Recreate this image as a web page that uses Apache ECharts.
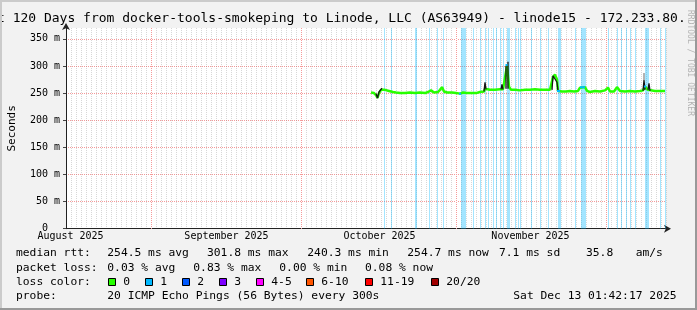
<!DOCTYPE html>
<html><head><meta charset="utf-8">
<script src="https://cdn.jsdelivr.net/npm/echarts@6/dist/echarts.min.js"></script>
<style>html,body{margin:0;padding:0;background:#f2f2f2}#c{width:697px;height:310px}</style>
</head><body><div id="c"></div>
<script>
// ---- data (x = days since 1 Aug 2025, y = milliseconds) ----
const monthLabels = ['August 2025', 'September 2025', 'October 2025', 'November 2025'];
const monthLabelDays = [14.9, 46.1, 76.7, 106.9];
const monthStartDays = [31, 61, 92, 122];
const yTicks = [0, 50, 100, 150, 200, 250, 300, 350];

const medianDays = [75.0, 75.6, 76.0, 76.3, 76.6, 77.0, 77.4, 77.8, 78.2, 78.6, 79.0, 79.4, 80.0, 80.8, 81.8, 82.8, 83.8, 84.8, 85.8, 86.4, 87.0, 87.6, 88.4, 88.8, 89.2, 89.6, 90.2, 91.2, 92.0, 92.8, 93.4, 94.2, 95.2, 96.0, 96.8, 97.2, 97.6, 97.8, 98.2, 98.8, 99.8, 100.8, 101.4, 101.8, 102.2, 102.6, 103.0, 103.8, 104.8, 105.8, 106.8, 107.8, 108.8, 109.8, 110.8, 111.2, 111.4, 111.8, 112.2, 112.4, 113.2, 114.0, 114.8, 115.6, 116.4, 116.8, 117.8, 118.2, 118.8, 119.8, 120.8, 121.8, 122.4, 122.8, 123.6, 124.2, 124.8, 125.8, 126.8, 127.8, 128.8, 129.4, 129.8, 130.4, 130.8, 131.8, 132.8, 133.8];
const medianMs = [251, 250, 246, 241, 250, 256, 259, 256, 257, 254, 255, 252, 251, 250, 250, 251, 250, 251, 250, 252, 255, 251, 252, 256, 261, 253, 251, 251, 250, 249, 251, 250, 250, 250, 252, 255, 253, 258, 256, 256, 256, 257, 257, 258, 300, 262, 256, 256, 255, 256, 256, 257, 256, 256, 256, 258, 280, 284, 275, 254, 253, 253, 254, 253, 254, 260, 261, 254, 252, 254, 253, 255, 260, 253, 253, 261, 254, 253, 254, 253, 254, 255, 262, 256, 254, 254, 254, 254];

// dark smoke (ping spread) around the spikes; null = gap
const smokeDays = [76.0, 76.3, 76.6, 77.2, 77.3, 97.6, 97.8, 98.0, 98.1, 101.0, 101.2, 101.4, 101.5, 102.0, 102.0, 102.1, 102.4, 102.4, 102.5, 111.2, 111.4, 111.8, 112.2, 112.4, 112.5, 129.4, 129.6, 129.8, 129.9, 130.4, 130.6, 130.8];
const smokeMs = [249, 241, 252, 259, null, 253, 270, 257, null, 257, 266, 257, null, 258, 300, null, 258, 308, null, 256, 282, 285, 270, 254, null, 254, 274, 256, null, 256, 268, 254];
const lightSmokeDays = [129.6, 129.6];
const lightSmokeMs = [274, 287];

// median ticks drawn in the 1-ping loss colour
const lossMedianDays = [92.6, 93.0, 93.1, 101.9, 102.3, 102.4, 112.2, 112.8, 112.9, 116.8, 117.8, 117.9, 129.6, 130.0];
const lossMedianMs = [249, 249, null, 302, 302, null, 254, 254, null, 261, 261, null, 262, 262];

// samples (one rrd pixel = 0.2 day) with 1 of 20 pings lost
const lossDays = [77.6, 79.0, 83.8, 84.0, 86.6, 88.2, 89.4, 93.0, 93.2, 93.4, 93.6, 93.8, 95.4, 96.8, 97.8, 98.4, 99.4, 100.0, 100.8, 101.4, 102.2, 102.4, 102.6, 103.8, 104.4, 104.8, 107.0, 108.8, 110.4, 112.4, 112.6, 112.8, 115.8, 117.0, 117.2, 117.4, 117.6, 117.8, 122.4, 124.2, 125.0, 126.0, 126.8, 127.8, 129.8, 130.0, 130.2, 130.4, 132.8, 133.8];

const titleText = 't 120 Days from docker-tools-smokeping to Linode, LLC (AS63949) - linode15 - 172.233.80.';
const rttLabel = 'median rtt:';
const rttStats = ['254.5 ms avg', '301.8 ms max', '240.3 ms min', '254.7 ms now', '7.1 ms sd', '35.8', 'am/s'];
const lossLabel = 'packet loss:';
const lossStats = ['0.03 % avg', '0.83 % max', '0.00 % min', '0.08 % now'];
const lossColorLabel = 'loss color:';
const lossNames = ['0', '1', '2', '3', '4-5', '6-10', '11-19', '20/20'];
const lossColors = ['#26ff00', '#00b8ff', '#0059ff', '#7e00ff', '#ff00ff', '#ff5500', '#ff0000', '#a10000'];
const probeLabel = 'probe:';
const probeText = '20 ICMP Echo Pings (56 Bytes) every 300s';
const dateText = 'Sat Dec 13 01:42:17 2025';
const creditText = 'RRDTOOL / TOBI OETIKER';

// ---- layout / style ----
const Y_MAX = 370;
const MONO = 'DejaVu Sans Mono';
const legendFont = '11.3px "DejaVu Sans Mono"';
const rttX = [107.3, 207, 307.3, 407.3, 499, 586, 635.7];
const lossX = [107.3, 193.3, 279.3, 365];
const boxX = [108.5, 145.5, 182.5, 219.5, 256.5, 306.5, 365.5, 431.5];
const rowY = [253.5, 267.7, 281.7, 296];
const redGrid = '#f59a9a';
const grayGrid = 'rgba(130,130,130,0.32)';

function pairs(xs, ys) { return xs.map((x, i) => [x, ys[i] === null ? '-' : ys[i]]); }

const graphics = [];
function txt(x, y, s, extra) {
  graphics.push(Object.assign({ type: 'text', x: x, y: y, silent: true, z: 100,
    style: { text: s, font: legendFont, fill: '#000', textAlign: 'left', textVerticalAlign: 'middle' } }, extra || {}));
}
txt(-3, 18.5, titleText, { style: { text: titleText, font: '13px "DejaVu Sans Mono"', fill: '#000', textAlign: 'left', textVerticalAlign: 'middle' } });
txt(16, rowY[0], rttLabel);
rttStats.forEach((s, i) => txt(rttX[i], rowY[0], s));
txt(16, rowY[1], lossLabel);
lossStats.forEach((s, i) => txt(lossX[i], rowY[1], s));
txt(16, rowY[2], lossColorLabel);
lossNames.forEach((s, i) => {
  graphics.push({ type: 'rect', silent: true, z: 100, shape: { x: boxX[i], y: 278.5, width: 7, height: 7 },
    style: { fill: lossColors[i], stroke: '#000', lineWidth: 1 } });
  txt(boxX[i] + 14.8, rowY[2], s);
});
txt(16, rowY[3], probeLabel);
txt(107.3, rowY[3], probeText);
txt(513.3, rowY[3], dateText);
graphics.push({ type: 'text', x: 690, y: 10, rotation: -Math.PI / 2, silent: true, z: 100,
  style: { text: creditText, font: '8px "DejaVu Sans Mono"', fill: '#b4b4b4', textAlign: 'left', textVerticalAlign: 'middle' } });
// 3D frame
graphics.push({ type: 'rect', silent: true, z: 101, shape: { x: 0, y: 0, width: 697, height: 2 }, style: { fill: '#cbcbcb' } });
graphics.push({ type: 'rect', silent: true, z: 101, shape: { x: 0, y: 0, width: 2, height: 310 }, style: { fill: '#cbcbcb' } });
graphics.push({ type: 'rect', silent: true, z: 102, shape: { x: 0, y: 308, width: 697, height: 2 }, style: { fill: '#999999' } });
graphics.push({ type: 'rect', silent: true, z: 102, shape: { x: 695, y: 0, width: 2, height: 310 }, style: { fill: '#999999' } });

const chart = echarts.init(document.getElementById('c'), null, { renderer: 'canvas' });
chart.setOption({
  animation: false,
  backgroundColor: '#f2f2f2',
  grid: { left: 66, right: 31, top: 28, bottom: 81.3, show: true, backgroundColor: '#ffffff', borderWidth: 0,
    containLabel: false, outerBoundsMode: 'none' },
  xAxis: {
    type: 'value', min: 14, max: 134, interval: 1,
    axisLine: { show: true, onZero: false, lineStyle: { color: '#222', width: 1 },
      symbol: ['none', 'arrow'], symbolSize: [6, 7], symbolOffset: [0, 5] },
    axisTick: { show: false },
    axisLabel: { customValues: monthLabelDays, margin: 3, fontFamily: MONO, fontSize: 10, color: '#000',
      formatter: v => { const i = monthLabelDays.indexOf(v); return i >= 0 ? monthLabels[i] : ''; } },
    splitLine: { show: true, lineStyle: { color: grayGrid, type: 'dotted', width: 1 } }
  },
  yAxis: [{
    type: 'value', min: 0, max: Y_MAX, interval: 10,
    name: 'Seconds', nameLocation: 'middle', nameGap: 48, nameRotate: 90,
    nameTextStyle: { fontFamily: MONO, fontSize: 11, color: '#000' },
    axisLine: { show: true, lineStyle: { color: '#222', width: 1 },
      symbol: ['none', 'arrow'], symbolSize: [6, 7], symbolOffset: [0, 5] },
    axisTick: { show: true, customValues: yTicks, length: 3, lineStyle: { color: '#444' } },
    axisLabel: { customValues: yTicks, margin: 6, fontFamily: MONO, fontSize: 10, color: '#000',
      formatter: v => v === 0 ? '0  ' : v + ' m' },
    splitLine: { show: true, lineStyle: { color: grayGrid, type: 'dotted', width: 1 } }
  }, {
    type: 'value', min: 0, max: Y_MAX, interval: 50, position: 'left',
    axisLine: { show: false }, axisTick: { show: false }, axisLabel: { show: false },
    splitLine: { show: true, showMinLine: false, showMaxLine: false, lineStyle: { color: redGrid, type: 'dotted', width: 1 } }
  }],
  graphic: { elements: graphics },
  series: [
    {
      type: 'custom', name: 'month', silent: true, z: 1,
      data: monthStartDays.map(d => [d, 0]), encode: { x: 0, y: 1 },
      renderItem: (params, api) => {
        const d = api.value(0);
        const b = api.coord([d, 0]), t = api.coord([d, Y_MAX]);
        const x = Math.round(b[0]) + 0.5;
        return { type: 'group', children: [
          { type: 'line', shape: { x1: x, y1: t[1], x2: x, y2: b[1] }, style: { stroke: '#ffffff', lineWidth: 1 } },
          { type: 'line', shape: { x1: x, y1: t[1], x2: x, y2: b[1] }, style: { stroke: redGrid, lineWidth: 1, lineDash: [1, 1] } }
        ] };
      }
    },
    {
      type: 'custom', name: 'loss', silent: true, z: 2,
      data: lossDays.map(d => [d, Y_MAX]), encode: { x: 0, y: 1 },
      renderItem: (params, api) => {
        const d = api.value(0);
        const b = api.coord([d, 0]), t = api.coord([d, api.value(1)]);
        return { type: 'rect', shape: { x: Math.round(b[0]), y: t[1], width: 1, height: b[1] - t[1] },
          style: { fill: 'rgba(0,184,255,0.36)' } };
      }
    },
    {
      type: 'line', name: 'median', z: 3, symbol: 'none', silent: true,
      data: pairs(medianDays, medianMs),
      lineStyle: { color: '#26ff00', width: 2.5 }
    },
    {
      type: 'line', name: 'smoke light', z: 4, symbol: 'none', silent: true,
      data: pairs(lightSmokeDays, lightSmokeMs),
      lineStyle: { color: '#9a9a9a', width: 1.5 }
    },
    {
      type: 'line', name: 'smoke', z: 5, symbol: 'none', silent: true, connectNulls: false,
      data: pairs(smokeDays, smokeMs),
      lineStyle: { color: '#151515', width: 1.3 }
    },
    {
      type: 'line', name: 'median loss 1', z: 6, symbol: 'none', silent: true, connectNulls: false,
      data: pairs(lossMedianDays, lossMedianMs),
      lineStyle: { color: '#00b8ff', width: 2 }
    }
  ]
});
</script>
</body></html>
